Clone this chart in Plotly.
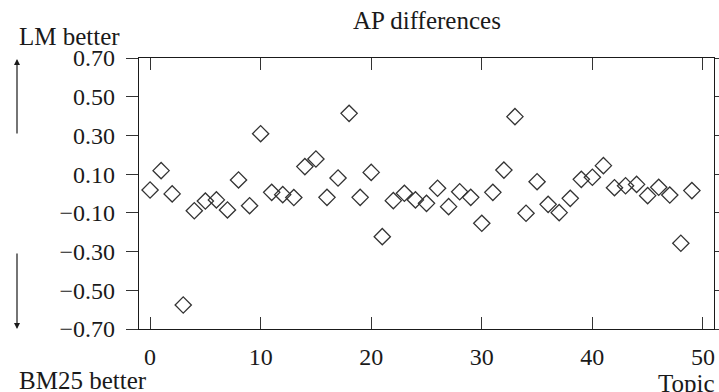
import plotly.graph_objects as go

topics = list(range(50))
ap_diff = [0.018, 0.118, -0.002, -0.576, -0.089, -0.039, -0.033, -0.085, 0.070, -0.063,
           0.309, 0.006, -0.006, -0.021, 0.139, 0.178, -0.020, 0.080, 0.414, -0.020,
           0.109, -0.223, -0.037, 0.001, -0.033, -0.051, 0.027, -0.068, 0.009, -0.020,
           -0.154, 0.006, 0.121, 0.397, -0.102, 0.061, -0.056, -0.099, -0.025, 0.073,
           0.084, 0.144, 0.030, 0.040, 0.047, -0.011, 0.032, -0.008, -0.257, 0.015]
y_ticks = [0.70, 0.50, 0.30, 0.10, -0.10, -0.30, -0.50, -0.70]
y_tick_labels = ["0.70", "0.50", "0.30", "0.10", "\u22120.10", "\u22120.30", "\u22120.50", "\u22120.70"]
x_ticks = [0, 10, 20, 30, 40, 50]

FONT = "Liberation Serif"
FS = 24
INK = "#1a1a1a"

fig = go.Figure()
fig.add_trace(go.Scatter(
    x=topics, y=ap_diff, mode="markers",
    marker=dict(symbol="diamond-open", size=12.5, color="#333333",
                line=dict(width=1.3, color="#333333")),
    showlegend=False, hoverinfo="x+y"))

fig.update_layout(
    width=719, height=392,
    margin=dict(l=139, r=5, t=58, b=63),
    paper_bgcolor="white", plot_bgcolor="white",
    font=dict(family=FONT, size=FS, color=INK),
    xaxis=dict(range=[-1, 51], tickvals=x_ticks, ticks="inside", ticklen=12,
               tickwidth=1, tickcolor="#333", showline=True, linecolor=INK,
               linewidth=1.3, mirror="ticks", showgrid=False, zeroline=False,
               ticklabelstandoff=6, automargin=False,
               tickfont=dict(family=FONT, size=FS, color=INK)),
    yaxis=dict(range=[-0.7, 0.7], tickvals=y_ticks, ticktext=y_tick_labels,
               ticks="outside", ticklen=12, tickwidth=1, tickcolor="#333",
               showline=True, linecolor=INK, linewidth=1.3, mirror="ticks",
               showgrid=False, zeroline=False, ticklabelstandoff=6,
               automargin=False,
               tickfont=dict(family=FONT, size=FS, color=INK)),
)

ann = [
    dict(text="AP differences", x=0.5, y=1.14, xanchor="center", yanchor="middle", size=25),
    dict(text="LM better", x=-0.2122, y=1.081, xanchor="left", yanchor="middle", size=25),
    dict(text="BM25 better", x=-0.2122, y=-0.19, xanchor="left", yanchor="middle", size=25),
    dict(text="Topic", x=1.006, y=-0.20, xanchor="right", yanchor="middle", size=25),
]
for a in ann:
    sz = a.pop("size")
    fig.add_annotation(xref="paper", yref="paper", showarrow=False,
                       font=dict(family=FONT, size=sz, color=INK), **a)

# arrows (paper coords: x=(px-139)/575, y=(329-py)/271)
fig.add_annotation(xref="paper", yref="paper", x=(17 - 139) / 575, y=(329 - 59) / 271,
                   ax=0, ay=76, text="", showarrow=True, arrowhead=2, arrowsize=1,
                   arrowwidth=1.2, arrowcolor=INK)
fig.add_annotation(xref="paper", yref="paper", x=(17 - 139) / 575, y=(329 - 329) / 271,
                   ax=0, ay=-77, text="", showarrow=True, arrowhead=2, arrowsize=1,
                   arrowwidth=1.2, arrowcolor=INK)

fig.write_html(
    "out.html",
    config={"displayModeBar": False},
    post_script="document.body.style.margin='0';"
                "document.documentElement.style.overflow='hidden';",
)
